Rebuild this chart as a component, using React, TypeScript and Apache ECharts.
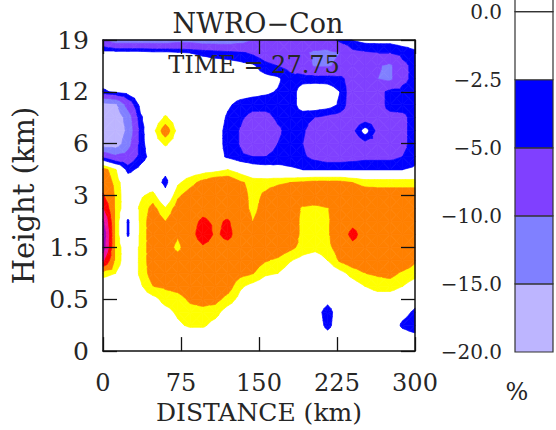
import React, { useEffect, useRef } from 'react';
import * as echarts from 'echarts';

const FONT = '"DejaVu Serif", "Liberation Serif", serif';
const INK = '#262626';

// grid columns: distance (km)
const distanceKm = [0, 12, 24, 36, 48, 60, 72, 84, 96, 108, 120, 132, 144, 156, 168, 180, 192, 204, 216, 228, 240, 252, 264, 276, 288, 300];
// grid rows: position on the stretched height axis (top to bottom)
const rowPos = [6, 5.75, 5.5, 5.25, 5, 4.75, 4.5, 4.25, 4, 3.75, 3.5, 3.25, 3, 2.75, 2.5, 2.25, 2, 1.75, 1.5, 1.25, 1, 0.75, 0.5, 0.25, 0];
const heightTickLabels = ['0', '0.5', '1.5', '3', '6', '12', '19'];

const contourLevels = [-15, -10, -5, -2.5, 2.5, 5, 10, 15, 20];
const bandColors = ['#BDB5FF', '#8080FF', '#8040FF', '#0000FF', '', '#FFFF00', '#FF8000', '#FF0000', '#F0109C', '#9900BB'];

const colorbarLabels = ['\u221220.0', '\u221215.0', '\u221210.0', '\u22125.0', '\u22122.5', '0.0'];
const colorbarColors = ['#BDB5FF', '#8080FF', '#8040FF', '#0000FF', '#FFFFFF', '#FFFFFF'];

// field values (%), rows top (19 km) to bottom (0 km)
const r0 = [-9, -13, -13, -13, -13, -13, -12, -12, -13, -13, -13, -12, -10, -8, -8, -8, -8, -8, -7, -4, -2.4, -1.5, -1.5, -1.5, -1, -1];
const r1 = [-1, -1, -1, -1, -1.5, -1.5, -2, -2.5, -3, -3.5, -4, -4.5, -5.5, -7, -8, -9, -9.5, -10.5, -11, -10, -6, -5.5, -5, -5, -4, -3];
const r2 = [-0.5, -0.5, -0.5, -0.5, -0.5, -0.5, -0.5, -0.5, -1, -1, -1, -1.5, -2, -4, -5, -6, -8, -10.5, -10.5, -9, -8, -8, -9.5, -11, -6, -4];
const r3 = [-1, -0.5, 0, 0, 0, 0, 0, 0, 0, 0, -0.5, -0.5, -1, -1.5, -2, -4, -3.5, -3.5, -3.5, -4, -7, -9, -10, -11, -6, -4];
const r4 = [-3, -2, -1, 0, 0, 0, 0, 0, 0, 0, -0.5, -1, -1.5, -2, -2.7, -4, -1, -0.5, -1, -2.5, -7.5, -9, -6.5, -4, -4, -3.5];
const r5 = [-17, -16, -8, -1.5, 0, 0, 0, 0, 0, 0, -2, -3.5, -4, -4, -4, -4, -1, -0.5, -1, -3, -7.5, -8.5, -6.5, -4, -3.5, -3.5];
const r6 = [-19, -18.5, -13, -3, 0, 3, 0.5, 0, 0, -0.5, -3, -4.5, -6, -6, -4.5, -4, -4, -5, -6, -6.5, -7.5, -7, -6, -6, -6, -3.5];
const r7 = [-19, -18.5, -14, -4, 1.5, 7, 1.5, 0, 0, -1, -3.5, -5.2, -7.5, -7.5, -5.5, -4, -4.5, -7, -7.5, -7.5, -6, -1, -6, -7, -6, -3.5];
const r8 = [-18, -18, -12, -4, 0.5, 3, 0.5, 0, 0, -1, -3.5, -5.2, -7.5, -7, -5, -4, -5, -7, -7.5, -7.5, -7, -6, -6, -7, -6, -3.5];
const r9 = [-6, -9, -8, -4, -1, 0, 0, 0, 0, -1, -3, -4.5, -5, -5, -4, -4, -4.5, -6, -7, -7, -6.5, -6, -6, -6, -5, -3.5];
const r10 = [6.5, 2.8, -3.5, -1.5, 0, -1.5, 0, 0.5, 1, 1.5, 2.5, 1, -0.5, -1, -1.5, -2, -2.5, -2.5, -2.5, -2.5, -2.5, -2.5, -2.5, -2.5, -2.5, -2];
const r11 = [8, 4, 0, 0, 0, -3.5, 2, 4, 6, 7.5, 7.5, 5.5, 4, 4, 4.5, 5, 5.5, 6, 6, 6, 5, 4, 4, 4, 4, 4];
const r12 = [10.5, 4.5, 0, 2, 3.5, -1, 4.5, 6.5, 8, 8, 8, 6.5, 4, 5.5, 7, 7.5, 7.5, 8, 8, 8, 7.5, 7, 6.5, 6.5, 6.5, 6.5];
const r13 = [15, 4.5, 0, 3, 6, 2.8, 6.5, 8, 9, 9, 8.5, 7, 4, 6.5, 7.5, 7, 4.5, 4, 4.8, 7, 8, 8, 8, 8, 8, 8];
const r14 = [21, 4.5, -3, 3, 7, 5, 7.5, 9, 10.5, 9.5, 10.3, 8.5, 5, 7, 8, 7.5, 4, 3.5, 4.5, 7.5, 9, 8.5, 8, 8, 8, 8];
const r15 = [24, 4.5, -3, 3, 7, 7.5, 5.5, 8.5, 12, 9.5, 10.8, 8.5, 7.5, 7.5, 8, 7.5, 4, 3.5, 4.5, 8, 11, 8.5, 8, 8, 8, 8];
const r16 = [23, 4.5, 0, 3, 7, 7, 4, 8, 9.5, 9, 9, 8.5, 8, 7.5, 7, 5.8, 4, 3.5, 4.2, 6.5, 9, 8.5, 8, 8, 8, 8];
const r17 = [16, 4.5, 0, 3, 7, 7.5, 7, 8, 8.5, 8.5, 8, 7.5, 6.5, 5.3, 4.5, 2.7, 1.5, 0.5, 2.5, 5.5, 7, 7.5, 8, 8, 7.5, 5.5];
const r18 = [3.5, 2.5, 0, 3, 6.5, 7.5, 8, 8, 8, 8, 7.5, 6, 5.2, 3, 2.5, 1, 0, 0, 0, 1.5, 3.5, 5, 5.5, 6, 4.5, 3.5];
const r19 = [0.5, 0, 0, 2, 5, 5.5, 6, 7, 7.5, 7.5, 6.5, 3, 1.5, 0.5, 0, 0, 0, 0, 0, 0, 1, 2.5, 3.5, 3.5, 2.5, 1];
const r20 = [0, 0, 0, 0.5, 1.5, 3.5, 4, 5.5, 6, 6, 4, 1.5, 0, 0, 0, 0, 0, 0, -1.5, 0, 0, 0.5, 1, 1, 0.5, -1.5];
const r21 = [0, 0, 0, 0, 0.5, 1.5, 3, 4, 4.2, 3.5, 1, 0, 0, 0, 0, 0, 0, -1, -3.8, -0.5, 0, 0, 0, 0, -1.5, -3];
const r22 = [0, 0, 0, 0, 0, 0.5, 2, 3, 3, 1.5, 0, 0, 0, 0, 0, 0, 0, -0.5, -3.4, -0.5, 0, 0, 0, -0.5, -3, -4];
const r23 = [0, 0, 0, 0, 0, 0, 0, 0, 0, 0, 0, 0, 0, 0, 0, 0, 0, 0, -1, 0, 0, 0, 0, 0, -1, -1.5];
const r24 = [0, 0, 0, 0, 0, 0, 0, 0, 0, 0, 0, 0, 0, 0, 0, 0, 0, 0, 0, 0, 0, 0, 0, 0, 0, 0];

const field = [r0, r1, r2, r3, r4, r5, r6, r7, r8, r9, r10, r11, r12, r13, r14, r15, r16, r17, r18, r19, r20, r21, r22, r23, r24];

type P = { x: number; y: number; v: number };

function clip(pts: P[], t: number, keepAbove: boolean): P[] {
  const out: P[] = [];
  for (let i = 0; i < pts.length; i++) {
    const a = pts[i];
    const b = pts[(i + 1) % pts.length];
    const ina = keepAbove ? a.v >= t : a.v <= t;
    const inb = keepAbove ? b.v >= t : b.v <= t;
    if (ina) out.push(a);
    if (ina !== inb) {
      const f = (t - a.v) / (b.v - a.v);
      out.push({ x: a.x + f * (b.x - a.x), y: a.y + f * (b.y - a.y), v: t });
    }
  }
  return out;
}

export default function App() {
  const ref = useRef<HTMLDivElement>(null);

  useEffect(() => {
    if (!ref.current) return;
    const chart = echarts.init(ref.current, undefined, { renderer: 'svg' });

    const cells: number[][] = [];
    for (let k = 0; k < rowPos.length - 1; k++) {
      for (let j = 0; j < distanceKm.length - 1; j++) {
        cells.push([distanceKm[j], rowPos[k], j, k]);
      }
    }

    const axisLineStyle = { color: '#111', width: 1.5 };
    const tickStyle = { color: '#111', width: 1.3 };

    const option: any = {
      animation: false,
      backgroundColor: '#ffffff',
      grid: [
        { left: 103, top: 40, width: 312, height: 312 },
        { left: 515, top: 0, width: 38, height: 352 },
      ],
      xAxis: [
        {
          type: 'value', gridIndex: 0, position: 'bottom', min: 0, max: 300, interval: 75, z: 10,
          axisLine: { show: true, onZero: false, lineStyle: axisLineStyle },
          axisTick: { show: true, inside: true, length: 14, lineStyle: tickStyle },
          axisLabel: { fontFamily: FONT, fontSize: 24, color: INK, margin: 20 },
          splitLine: { show: false },
          name: 'DISTANCE (km)', nameLocation: 'middle', nameGap: 48,
          nameTextStyle: { fontFamily: FONT, fontSize: 25, color: INK },
        },
        {
          type: 'value', gridIndex: 0, position: 'top', min: 0, max: 300, interval: 75, z: 10,
          axisLine: { show: true, onZero: false, lineStyle: axisLineStyle },
          axisTick: { show: true, inside: true, length: 14, lineStyle: tickStyle },
          axisLabel: { show: false },
          splitLine: { show: false },
        },
        { type: 'value', gridIndex: 1, min: 0, max: 1, show: false },
      ],
      yAxis: [
        {
          type: 'value', gridIndex: 0, position: 'left', min: 0, max: 6, interval: 1, z: 10,
          axisLine: { show: true, onZero: false, lineStyle: axisLineStyle },
          axisTick: { show: true, inside: true, length: 14, lineStyle: tickStyle },
          axisLabel: {
            fontFamily: FONT, fontSize: 25, color: INK, margin: 14,
            formatter: (v: number) => heightTickLabels[Math.round(v)] ?? '',
          },
          splitLine: { show: false },
          name: 'Height (km)', nameLocation: 'middle', nameGap: 57, nameRotate: 90,
          nameTextStyle: { fontFamily: FONT, fontSize: 29, color: INK },
        },
        {
          type: 'value', gridIndex: 0, position: 'right', min: 0, max: 6, interval: 1, z: 10,
          axisLine: { show: true, onZero: false, lineStyle: axisLineStyle },
          axisTick: { show: true, inside: true, length: 14, lineStyle: tickStyle },
          axisLabel: { show: false },
          splitLine: { show: false },
        },
        {
          type: 'value', gridIndex: 1, position: 'left', min: 0, max: 5.172, interval: 1,
          axisLine: { show: false }, axisTick: { show: false }, splitLine: { show: false },
          axisLabel: {
            fontFamily: FONT, fontSize: 20, color: INK, margin: 13, showMaxLabel: false,
            formatter: (v: number) => (Math.abs(v - Math.round(v)) < 1e-6 ? colorbarLabels[Math.round(v)] ?? '' : ''),
          },
        },
      ],
      series: [
        {
          type: 'custom',
          xAxisIndex: 0,
          yAxisIndex: 0,
          silent: true,
          z: 2,
          data: cells,
          renderItem: (params: any, api: any) => {
            const j = api.value(2);
            const k = api.value(3);
            const idx = [[j, k], [j + 1, k], [j + 1, k + 1], [j, k + 1]];
            const corners: P[] = idx.map(([c, r]) => {
              const p = api.coord([distanceKm[c], rowPos[r]]);
              return { x: p[0], y: p[1], v: field[r][c] };
            });
            const center: P = {
              x: (corners[0].x + corners[2].x) / 2,
              y: (corners[0].y + corners[2].y) / 2,
              v: (corners[0].v + corners[1].v + corners[2].v + corners[3].v) / 4,
            };
            const children: any[] = [];
            for (let t = 0; t < 4; t++) {
              const tri = [corners[t], corners[(t + 1) % 4], center];
              for (let b = 0; b < bandColors.length; b++) {
                const color = bandColors[b];
                if (!color) continue;
                let poly: P[] = tri;
                if (b > 0) poly = clip(poly, contourLevels[b - 1], true);
                if (poly.length < 3) continue;
                if (b < contourLevels.length) poly = clip(poly, contourLevels[b], false);
                if (poly.length < 3) continue;
                children.push({
                  type: 'polygon',
                  shape: { points: poly.map((p) => [p.x, p.y]) },
                  style: { fill: color, stroke: color, lineWidth: 0.7 },
                  silent: true,
                });
              }
            }
            return { type: 'group', children };
          },
        },
        {
          type: 'custom',
          xAxisIndex: 2,
          yAxisIndex: 2,
          silent: true,
          data: colorbarColors.map((_, i) => [0, i]),
          renderItem: (params: any, api: any) => {
            const i = api.value(1);
            const p0 = api.coord([0, i + 1]);
            const p1 = api.coord([1, i]);
            return {
              type: 'rect',
              shape: { x: p0[0], y: p0[1], width: p1[0] - p0[0], height: p1[1] - p0[1] },
              style: { fill: colorbarColors[i], stroke: '#333', lineWidth: 1.2 },
            };
          },
        },
      ],
      graphic: [
        {
          type: 'text', x: 258, y: 23, z: 100,
          style: { text: 'NWRO\u2212Con', font: `27px ${FONT}`, fill: INK, align: 'center', verticalAlign: 'middle' },
        },
        {
          type: 'text', x: 254, y: 65, z: 100,
          style: { text: 'TIME = 27.75', font: `24px ${FONT}`, fill: INK, align: 'center', verticalAlign: 'middle' },
        },
        {
          type: 'text', x: 517, y: 392, z: 100,
          style: { text: '%', font: `24px ${FONT}`, fill: INK, align: 'center', verticalAlign: 'middle' },
        },
      ],
    };

    chart.setOption(option);
    return () => chart.dispose();
  }, []);

  return (
    <div
      ref={ref}
      style={{ position: 'fixed', left: 0, top: 0, width: 556, height: 430, background: '#fff' }}
    />
  );
}
